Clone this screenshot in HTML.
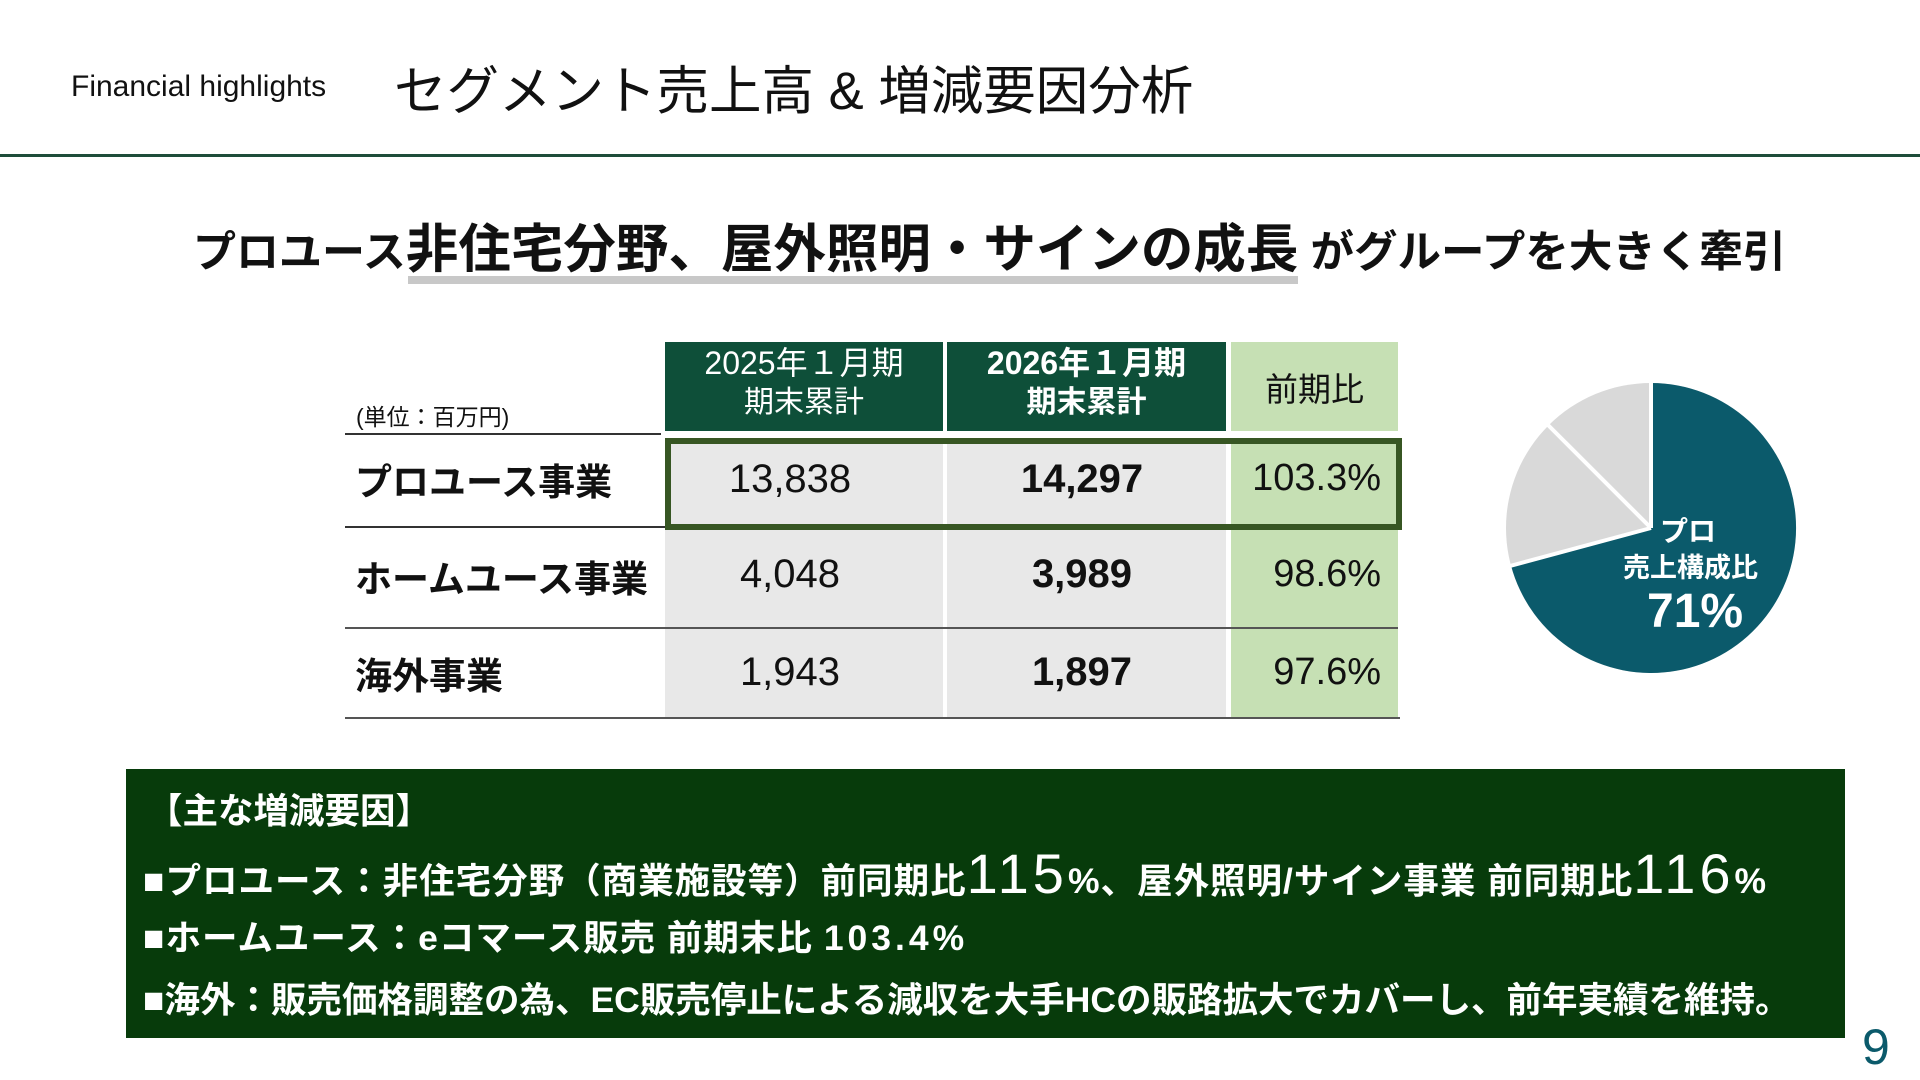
<!DOCTYPE html>
<html><head><meta charset="utf-8"><style>
body{margin:0;width:1920px;height:1080px;background:#fff;position:relative;overflow:hidden;font-family:"Liberation Sans","Noto Sans CJK JP",sans-serif;color:#111}
.a{position:absolute;white-space:nowrap}
.hd{position:absolute;background:#0e4f39;color:#fff;text-align:center;line-height:1.2}
.c{position:absolute;display:flex;align-items:center;justify-content:center}
.g{background:#e8e8e8}.lg{background:#c6e0b4}
.num{font-size:40px}
.lab{font-size:37px;font-weight:bold;left:355px}
.ln{position:absolute;height:2px;background:#333}
.bt{font-size:35.5px;font-weight:bold;color:#fff}
</style></head><body>
<div class="a" style="left:71px;top:70px;font-size:30px">Financial highlights</div>
<div class="a" style="left:394px;top:49px;font-size:52.5px">セグメント売上高 &amp; 増減要因分析</div>
<div class="a" style="left:0;top:154px;width:1920px;height:3px;background:#1e4d3a"></div>

<div class="a" style="left:408px;top:276px;width:890px;height:8px;background:#c8c8c8"></div>
<div class="a" style="left:193px;top:207px;font-weight:bold;color:#111">
<span style="font-size:43px">プロユース</span><span style="font-size:52.5px">非住宅分野、屋外照明・サインの成長</span><span style="font-size:43.5px"> がグループを大きく牽引</span></div>

<div class="a" style="left:356px;top:398px;font-size:23px">(単位：百万円)</div>
<div class="ln" style="left:345px;top:433px;width:316px"></div>

<div class="hd" style="left:665px;top:342px;width:278px;height:89px;font-size:32px;padding-top:2px;box-sizing:border-box">2025年１月期<br><span style="font-size:30px">期末累計</span></div>
<div class="hd" style="left:947px;top:342px;width:279px;height:89px;font-size:32px;font-weight:bold;padding-top:2px;box-sizing:border-box">2026年１月期<br><span style="font-size:30px">期末累計</span></div>
<div class="c lg" style="left:1231px;top:342px;width:167px;height:89px;font-size:33px">前期比</div>

<div class="c g" style="left:665px;top:438px;width:278px;height:280px"></div>
<div class="c g" style="left:947px;top:438px;width:279px;height:280px"></div>
<div class="c lg" style="left:1231px;top:438px;width:167px;height:280px"></div>

<div class="ln" style="left:345px;top:526px;width:320px"></div>
<div class="ln" style="left:345px;top:627px;width:1053px;background:#555"></div>
<div class="ln" style="left:345px;top:717px;width:1055px;background:#555"></div>

<div class="a" style="left:665px;top:438px;width:737px;height:92px;border:6px solid #375623;box-sizing:border-box"></div>

<div class="a lab" style="top:452px">プロユース事業</div>
<div class="a lab" style="top:549px">ホームユース事業</div>
<div class="a lab" style="top:646px">海外事業</div>

<div class="c num" style="left:665px;top:450px;width:250px;height:58px">13,838</div>
<div class="c num" style="left:947px;top:450px;width:270px;height:58px;font-weight:bold">14,297</div>
<div class="a num" style="left:1231px;top:457px;width:150px;text-align:right;font-size:38px">103.3%</div>
<div class="c num" style="left:665px;top:545px;width:250px;height:58px">4,048</div>
<div class="c num" style="left:947px;top:545px;width:270px;height:58px;font-weight:bold">3,989</div>
<div class="a num" style="left:1231px;top:553px;width:150px;text-align:right;font-size:38px">98.6%</div>
<div class="c num" style="left:665px;top:643px;width:250px;height:58px">1,943</div>
<div class="c num" style="left:947px;top:643px;width:270px;height:58px;font-weight:bold">1,897</div>
<div class="a num" style="left:1231px;top:651px;width:150px;text-align:right;font-size:38px">97.6%</div>

<svg class="a" style="left:1500px;top:378px" width="300" height="300" viewBox="0 0 300 300">
<circle cx="151" cy="150" r="145" fill="#d9d9d9"/>
<path d="M151 150 L151 5 A145 145 0 1 1 11.0 187.5 Z" fill="#0b5a6b"/>
<g stroke="#fff" stroke-width="4">
<line x1="151" y1="150" x2="151" y2="4"/>
<line x1="151" y1="150" x2="10" y2="188"/>
<line x1="151" y1="150" x2="48" y2="47"/>
</g>
</svg>
<div class="a" style="left:1660px;top:510px;font-size:28px;font-weight:bold;color:#fff">プロ</div>
<div class="a" style="left:1623px;top:546px;font-size:27px;font-weight:bold;color:#fff">売上構成比</div>
<div class="a" style="left:1647px;top:584px;font-size:48px;font-weight:bold;color:#fff">71%</div>

<div class="a" style="left:126px;top:769px;width:1719px;height:269px;background:#073b0b"></div>
<div class="a bt" style="left:147px;top:783px">【主な増減要因】</div>
<div class="a bt" style="left:143px;top:841px;letter-spacing:1px">■プロユース：非住宅分野（商業施設等）前同期比<span style="font-size:56px;font-weight:normal;letter-spacing:4px">115</span>%、屋外照明/サイン事業 前同期比<span style="font-size:56px;font-weight:normal;letter-spacing:4px">116</span>%</div>
<div class="a bt" style="left:143px;top:910px;letter-spacing:1px">■ホームユース：eコマース販売 前期末比 <span style="letter-spacing:4px">103.4%</span></div>
<div class="a bt" style="left:143px;top:972px">■海外：販売価格調整の為、EC販売停止による減収を大手HCの販路拡大でカバーし、前年実績を維持。</div>

<div class="a" style="left:1862px;top:1018px;font-size:50px;color:#0b5a6b">9</div>
</body></html>
